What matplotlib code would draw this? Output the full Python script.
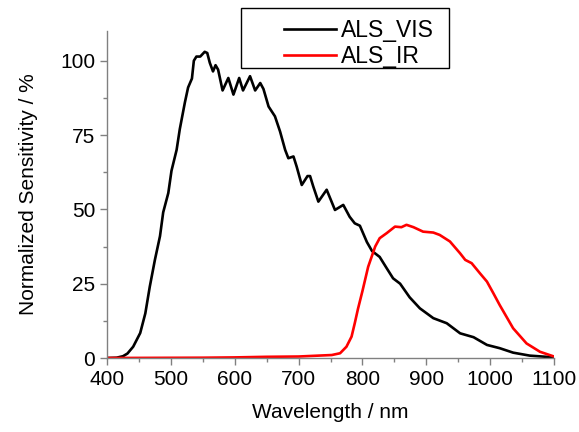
import matplotlib
matplotlib.use("Agg")
import matplotlib.pyplot as plt
from matplotlib.ticker import MultipleLocator
from matplotlib.patches import Rectangle

plt.rcParams['font.family'] = ['Liberation Sans', 'DejaVu Sans']

vis_wl = [400, 415, 425, 432, 441, 452, 460, 467, 475, 483, 488, 496, 501, 509, 514, 522, 527, 533,
          536, 540, 546, 553, 557, 561, 566, 570, 574, 581, 590, 598, 607, 613, 624, 632, 640, 645,
          653, 663, 671, 679, 684, 692, 697, 705, 714, 718, 723, 731, 744, 757, 770, 780, 788, 796,
          807, 815, 827, 838, 848, 859, 874, 890, 911, 932, 953, 974, 995, 1015, 1036, 1062, 1088, 1100]
vis_val = [0, 0.1, 0.6, 1.5, 3.8, 8.4, 15, 24, 33, 41, 49, 55.5, 63, 70, 77, 86, 91, 94,
           100, 101.4, 101.4, 103, 102.6, 99.3, 96.4, 98.5, 97, 90, 94.2, 88.6, 94.2, 90, 94.8, 90, 92.5, 90.5,
           84.6, 81.3, 76.2, 70, 67.2, 67.8, 64.4, 58.2, 61.2, 61.2, 57.7, 52.6, 56.6, 49.8, 51.5, 47.5, 45.3, 44.5,
           39, 36, 34, 30.2, 26.8, 25, 20.4, 16.7, 13.4, 11.7, 8.3, 7, 4.4, 3.3, 1.8, 0.8, 0.4, 0.2]

ir_wl = [400, 550, 600, 650, 700, 752, 765, 775, 783, 788, 793, 800, 809, 820, 827, 838, 851, 861,
         869, 880, 895, 911, 921, 937, 953, 961, 971, 984, 995, 1005, 1015, 1036, 1057, 1078, 1100]
ir_val = [0, 0.1, 0.2, 0.4, 0.5, 1, 1.6, 3.8, 7.2, 11.7, 16.5, 22.5, 30.7, 37.5, 40.3, 42, 44.2, 44,
          44.8, 44, 42.5, 42.2, 41.4, 39.2, 35.2, 33, 31.9, 28.5, 25.7, 21.8, 17.8, 10, 4.9, 2.1, 0.5]

W, H = 579, 432
fig = plt.figure(figsize=(W/100, H/100), dpi=100)
ax = fig.add_axes([107/W, 1-358/H, 447/W, 327/H])

ax.plot(vis_wl, vis_val, color='black', lw=1.9, label='ALS_VIS')
ax.plot(ir_wl, ir_val, color='red', lw=1.9, label='ALS_IR')

ax.set_xlim(400, 1100)
ax.set_ylim(0, 110)
ax.xaxis.set_major_locator(MultipleLocator(100))
ax.xaxis.set_minor_locator(MultipleLocator(50))
ax.yaxis.set_major_locator(MultipleLocator(25))
ax.yaxis.set_minor_locator(MultipleLocator(12.5))

for s in ['top', 'right']:
    ax.spines[s].set_visible(False)
for s in ['left', 'bottom']:
    ax.spines[s].set_color('#808080')
    ax.spines[s].set_linewidth(1.0)
ax.tick_params(which='both', direction='out', color='#808080', labelsize=15, labelcolor='black')
ax.tick_params(which='major', length=5, width=1)
ax.tick_params(which='minor', length=3, width=1)

ax.set_xlabel('Wavelength / nm', fontsize=15, labelpad=10)
ax.set_ylabel('Normalized Sensitivity / %', fontsize=15, labelpad=16)

# legend frame (Origin-style wide box)
fig.patches.append(Rectangle((241/W, 1-68/H), 208/W, 60/H, transform=fig.transFigure,
                             fill=False, edgecolor='black', linewidth=1.0))
leg = fig.legend(loc='upper left', bbox_to_anchor=(284/W, 1-19/H), fontsize=16.5,
                 frameon=False, handlelength=2.25, handletextpad=0.22, borderpad=0,
                 labelspacing=0.12, borderaxespad=0)
for line in leg.get_lines():
    line.set_linewidth(1.9)

fig.savefig('out.png', dpi=100)
